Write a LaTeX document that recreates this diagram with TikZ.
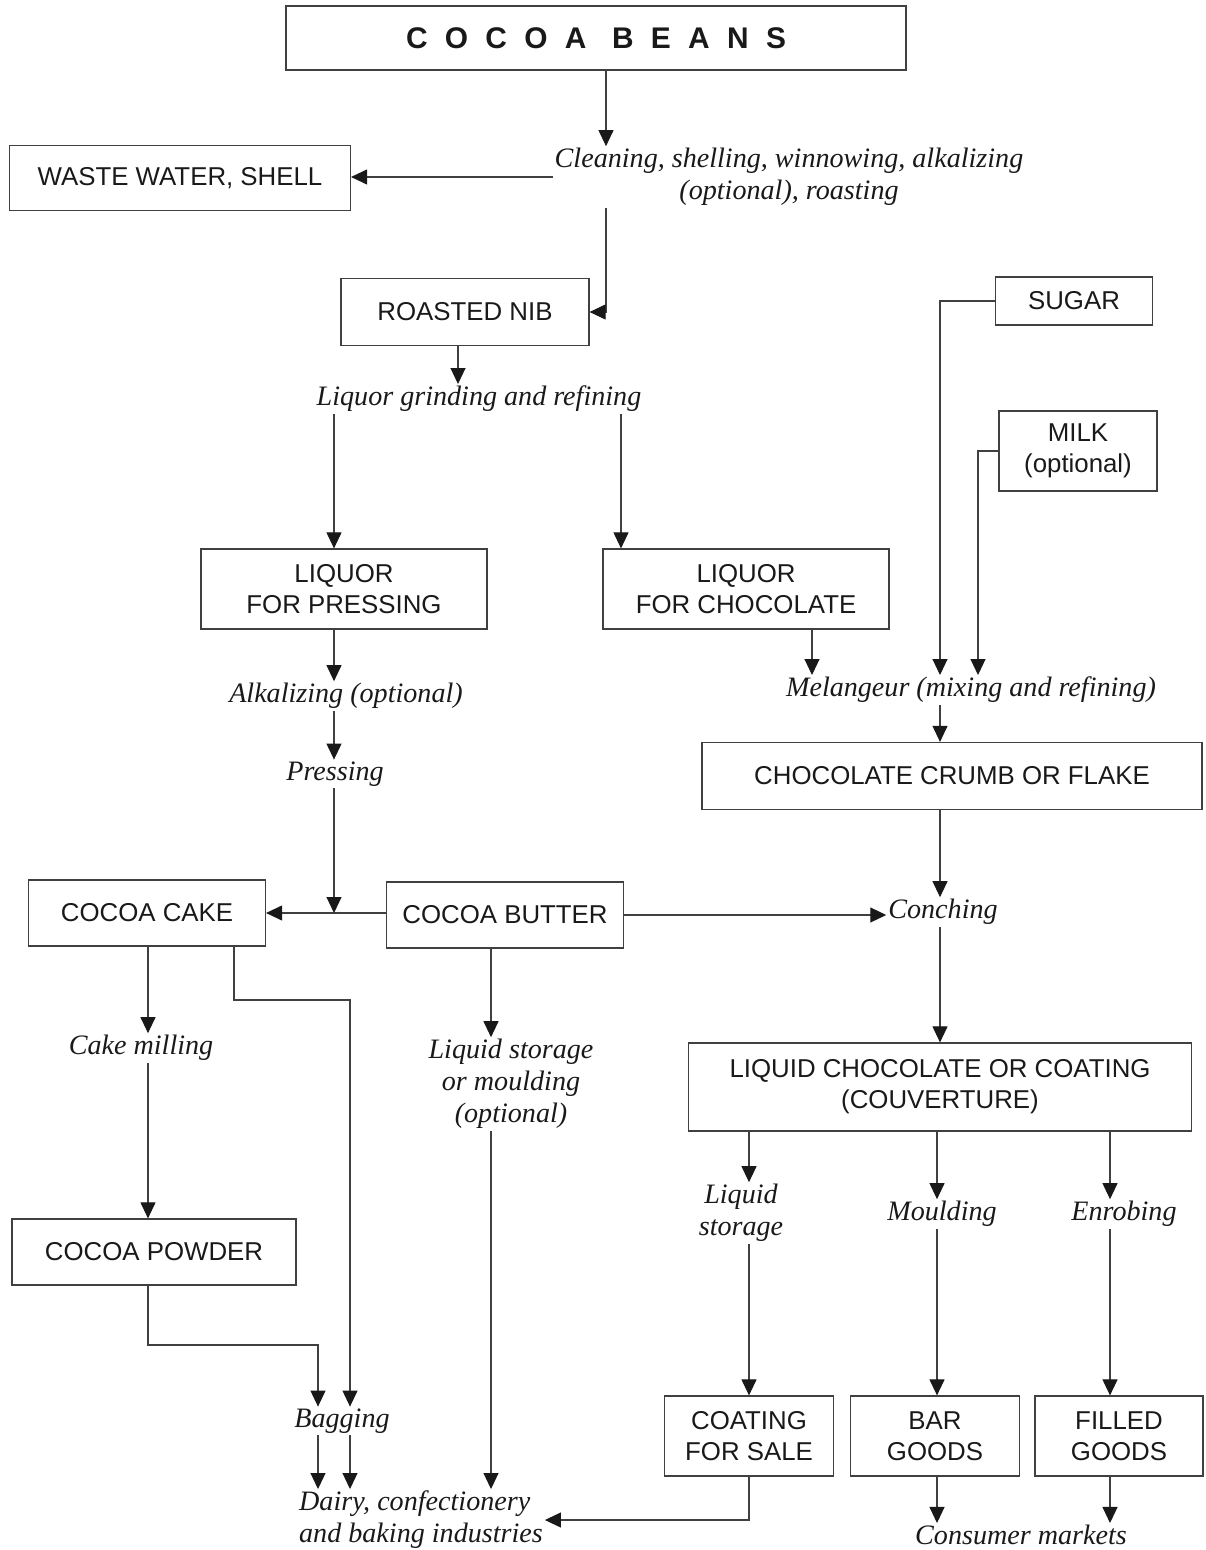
\documentclass[tikz,border=0pt]{standalone}
\usepackage{fontspec}
\setmainfont{Liberation Serif}
\setsansfont{Liberation Sans}
\newfontfamily\beansfont[LetterSpace=58]{Liberation Sans}
\usepackage{tikz}
\usetikzlibrary{arrows.meta}
\usepackage{xcolor}

\begin{document}
\begin{tikzpicture}[
    x=0.02cm, y=-0.02cm,
    box/.style={draw=black!75, line width=0.7pt, inner sep=0pt, align=center, text=black!90, font=\sffamily\fontsize{14.7}{17.6}\selectfont},
    lab/.style={inner sep=1pt, align=center, text=black!90, font=\itshape\fontsize{16}{18.2}\selectfont},
    arrow/.style={-{Triangle[length=0.32cm,width=0.3cm,color=black!90]}, line width=0.6pt, draw=black!75}
  ]
  \useasboundingbox (0,0) rectangle (1205,1550);

  % Main components
  \node[box, line width=1.1pt, minimum width=12.4cm, minimum height=1.28cm, font=\beansfont\bfseries\fontsize{17}{18}\selectfont] (beans) at (596,38) {COCOA BEANS};
  \node[lab] (clean) at (789,177) {Cleaning, shelling, winnowing, alkalizing\\(optional), roasting};
  \node[box, minimum width=6.82cm, minimum height=1.3cm] (waste) at (180,178) {WASTE WATER, SHELL};
  \node[box, minimum width=4.96cm, minimum height=1.34cm] (nib) at (465,312) {ROASTED NIB};
  \node[lab] (grind) at (479,399) {Liquor grinding and refining};
  \node[box, minimum width=5.72cm, minimum height=1.6cm] (pressing) at (344,589) {LIQUOR\\FOR PRESSING};
  \node[box, minimum width=5.72cm, minimum height=1.6cm] (chocliq) at (746,589) {LIQUOR\\FOR CHOCOLATE};
  \node[lab] (alk) at (346,696) {Alkalizing (optional)};
  \node[lab] (press) at (335,774) {Pressing};

  % Chocolate side
  \node[box, minimum width=3.14cm, minimum height=0.96cm] (sugar) at (1074,301) {SUGAR};
  \node[box, minimum width=3.16cm, minimum height=1.6cm] (milk) at (1078,451) {MILK\\(optional)};
  \node[lab] (meleng) at (971,690) {Melangeur (mixing and refining)};
  \node[box, minimum width=10.0cm, minimum height=1.34cm] (crumb) at (952,776) {CHOCOLATE CRUMB OR FLAKE};
  \node[lab] (conch) at (943,912) {Conching};
  \node[box, minimum width=10.06cm, minimum height=1.76cm] (liqchoc) at (940,1087) {LIQUID CHOCOLATE OR COATING\\(COUVERTURE)};
  \node[lab] (liqst) at (741,1213) {Liquid\\storage};
  \node[lab] (mould) at (942,1214) {Moulding};
  \node[lab] (enrob) at (1124,1214) {Enrobing};
  \node[box, minimum width=3.38cm, minimum height=1.6cm] (coatsale) at (749,1436) {COATING\\FOR SALE};
  \node[box, minimum width=3.38cm, minimum height=1.6cm] (bar) at (935,1436) {BAR\\GOODS};
  \node[box, minimum width=3.36cm, minimum height=1.6cm] (filled) at (1119,1436) {FILLED\\GOODS};
  \node[lab] (consumer) at (1021,1535) {Consumer markets};

  % Cocoa side
  \node[box, minimum width=4.74cm, minimum height=1.32cm] (cake) at (147,913) {COCOA CAKE};
  \node[box, minimum width=4.74cm, minimum height=1.32cm] (butter) at (505,915) {COCOA BUTTER};
  \node[lab] (cakemill) at (141,1048) {Cake milling};
  \node[lab] (liqstore) at (511,1084) {Liquid storage\\or moulding\\(optional)};
  \node[box, minimum width=5.68cm, minimum height=1.32cm] (powder) at (154,1252) {COCOA POWDER};
  \node[lab] (bagging) at (342,1421) {Bagging};
  \node[lab, align=left] (dairy) at (421,1520) {Dairy, confectionery\\and baking industries};

  % Columns and rows for the connectors
  \coordinate (cBeans) at (606,0);
  \coordinate (cNib) at (458,0);
  \coordinate (cPress) at (334,0);
  \coordinate (cChoc) at (621,0);
  \coordinate (cLiq) at (812,0);
  \coordinate (cSugar) at (940,0);
  \coordinate (cMilk) at (978,0);
  \coordinate (cLs) at (749,0);
  \coordinate (cMo) at (937,0);
  \coordinate (cEn) at (1110,0);
  \coordinate (cBut) at (491,0);
  \coordinate (cCake) at (148,0);
  \coordinate (cCake2) at (234,0);
  \coordinate (cBag1) at (318,0);
  \coordinate (cBag2) at (350,0);
  \coordinate (rowA) at (0,1000);
  \coordinate (rowB) at (0,1345);

  % Connections
  \draw[arrow] (cBeans |- beans.south) -- (cBeans |- clean.north);
  \draw[arrow] (clean.west) -- (clean.west -| waste.east);
  \draw[arrow] (cBeans |- clean.south) |- (nib.east);
  \draw[arrow] (cNib |- nib.south) -- (cNib |- grind.north);
  \draw[arrow] (cPress |- grind.south) -- (cPress |- pressing.north);
  \draw[arrow] (cChoc |- grind.south) -- (cChoc |- chocliq.north);
  \draw[arrow] (cPress |- pressing.south) -- (cPress |- alk.north);
  \draw[arrow] (cPress |- alk.south) -- (cPress |- press.north);
  \draw[arrow] (butter.west |- cake.east) -- (cake.east);
  \draw[arrow] (cPress |- press.south) -- (cPress |- cake.east);
  \draw[arrow] (butter.east) -- (butter.east -| conch.west);
  \draw[arrow] (cLiq |- chocliq.south) -- (cLiq |- meleng.north);
  \draw[arrow] (sugar.west) -| (cSugar |- meleng.north);
  \draw[arrow] (milk.west) -| (cMilk |- meleng.north);
  \draw[arrow] (cSugar |- meleng.south) -- (cSugar |- crumb.north);
  \draw[arrow] (cSugar |- crumb.south) -- (cSugar |- conch.north);
  \draw[arrow] (cSugar |- conch.south) -- (cSugar |- liqchoc.north);
  \draw[arrow] (cLs |- liqchoc.south) -- (cLs |- liqst.north);
  \draw[arrow] (cMo |- liqchoc.south) -- (cMo |- mould.north);
  \draw[arrow] (cEn |- liqchoc.south) -- (cEn |- enrob.north);
  \draw[arrow] (cLs |- liqst.south) -- (cLs |- coatsale.north);
  \draw[arrow] (cMo |- mould.south) -- (cMo |- bar.north);
  \draw[arrow] (cEn |- enrob.south) -- (cEn |- filled.north);
  \draw[arrow] (cMo |- bar.south) -- (cMo |- consumer.north);
  \draw[arrow] (cEn |- filled.south) -- (cEn |- consumer.north);
  \draw[arrow] (cLs |- coatsale.south) |- (dairy.east);
  \draw[arrow] (cBut |- butter.south) -- (cBut |- liqstore.north);
  \draw[arrow] (cBut |- liqstore.south) -- (cBut |- dairy.north);
  \draw[arrow] (cCake |- cake.south) -- (cCake |- cakemill.north);
  \draw[arrow] (cCake |- cakemill.south) -- (cCake |- powder.north);
  \draw[arrow] (cCake2 |- cake.south) -- (cCake2 |- rowA) -| (cBag2 |- bagging.north);
  \draw[arrow] (cCake |- powder.south) -- (cCake |- rowB) -| (cBag1 |- bagging.north);
  \draw[arrow] (cBag1 |- bagging.south) -- (cBag1 |- dairy.north);
  \draw[arrow] (cBag2 |- bagging.south) -- (cBag2 |- dairy.north);

\end{tikzpicture}
\end{document}
